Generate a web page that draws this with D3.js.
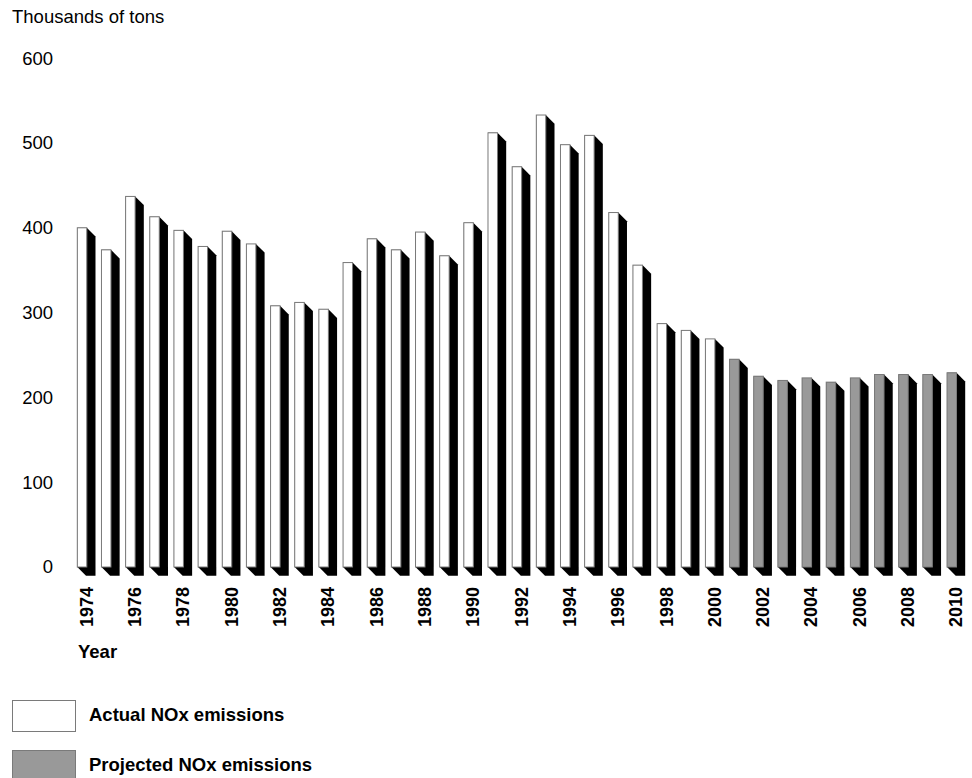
<!DOCTYPE html>
<html>
<head>
<meta charset="utf-8">
<script src="https://cdn.jsdelivr.net/npm/d3@7"></script>
<style>
  html, body { margin: 0; padding: 0; background: #fff; }
  svg { display: block; font-family: "Liberation Sans", Arial, Helvetica, sans-serif; }
</style>
</head>
<body>
<svg id="chart" width="972" height="778"></svg>
<script>
const years = d3.range(1974, 2011);
const actualValues = [400, 374, 437, 413, 397, 378, 396, 381, 308, 312, 304, 359, 387, 374, 395, 367, 406,
                      512, 472, 533, 498, 509, 418, 356, 287, 279, 269];
const projectedValues = [245, 225, 220, 223, 218, 223, 227, 227, 227, 229];
const yTicks = [0, 100, 200, 300, 400, 500, 600];
const xTickLabels = years.filter(y => y % 2 === 0);
const legendLabels = ["Actual NOx emissions", "Projected NOx emissions"];
const yTitle = "Thousands of tons";
const xTitle = "Year";

const data = years.map((yr, i) => ({
  year: yr,
  value: i < actualValues.length ? actualValues[i] : projectedValues[i - actualValues.length],
  type: i < actualValues.length ? "actual" : "projected"
}));

const svg = d3.select("#chart");
const fills = { actual: "#ffffff", projected: "#999999" };
const depth = 8.7;

const x = d3.scaleBand().domain(years).range([77.3, 956.5]).paddingInner(0.607).paddingOuter(0);
const y = d3.scaleLinear().domain([0, 600]).range([567, 58.2]);
const w = x.bandwidth();

// y title
svg.append("text").attr("x", 12).attr("y", 23).attr("font-size", 18.5).attr("fill", "#000").text(yTitle);

// y tick labels
svg.append("g").selectAll("text").data(yTicks).join("text")
  .attr("x", 53).attr("y", d => y(d)).attr("dy", "0.35em")
  .attr("text-anchor", "end").attr("font-size", 18.5).attr("fill", "#000")
  .text(d => d);

// bars
const bars = svg.append("g").selectAll("g").data(data).join("g");
bars.append("polygon")
  .attr("fill", "#000")
  .attr("points", d => {
    const x0 = x(d.year), x1 = x0 + w, yt = y(d.value), yb = y(0);
    return [[x0, yt], [x1, yt], [x1 + depth, yt + depth], [x1 + depth, yb + depth], [x0 + depth, yb + depth], [x0, yb]]
      .map(p => p.join(",")).join(" ");
  });
bars.append("rect")
  .attr("x", d => x(d.year)).attr("y", d => y(d.value))
  .attr("width", w).attr("height", d => y(0) - y(d.value))
  .attr("fill", d => fills[d.type]).attr("stroke", "#7a7a7a").attr("stroke-width", 1);

// x tick labels
svg.append("g").selectAll("text").data(xTickLabels).join("text")
  .attr("transform", d => `translate(${x(d) + (w + depth) / 2},587) rotate(-90)`)
  .attr("dy", "0.35em").attr("text-anchor", "end")
  .attr("font-size", 18).attr("font-weight", "bold").attr("fill", "#000")
  .text(d => d);

// x title
svg.append("text").attr("x", 78).attr("y", 658).attr("font-size", 18.5).attr("font-weight", "bold").text(xTitle);

// legend
const legend = svg.append("g").selectAll("g").data(["actual", "projected"]).join("g")
  .attr("transform", (d, i) => `translate(0,${i * 50})`);
legend.append("rect").attr("x", 12.5).attr("y", 700.5).attr("width", 63).attr("height", 31)
  .attr("fill", d => fills[d]).attr("stroke", "#7a7a7a");
legend.append("text").attr("x", 89).attr("y", 721).attr("font-size", 18.5).attr("font-weight", "bold")
  .text((d, i) => legendLabels[i]);
</script>
</body>
</html>
